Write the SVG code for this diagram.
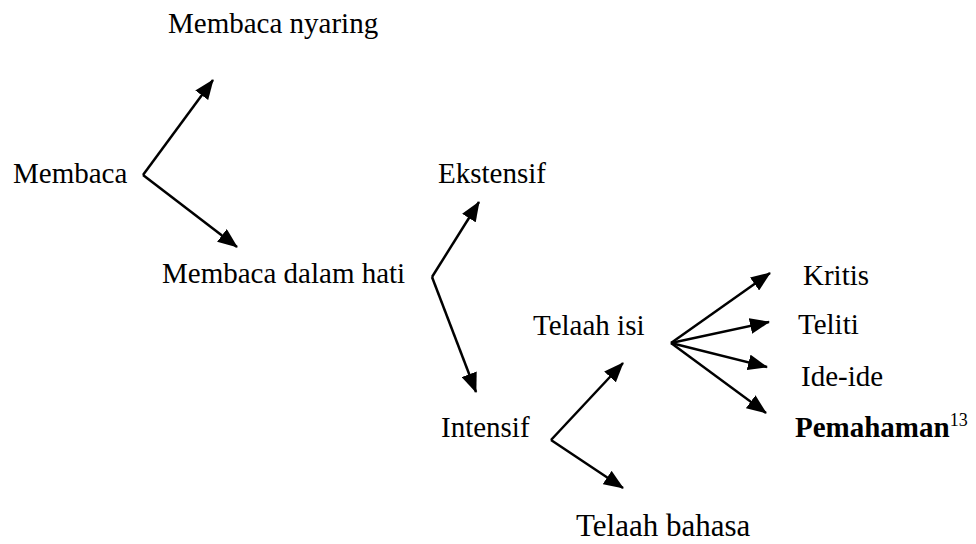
<svg xmlns="http://www.w3.org/2000/svg" width="976" height="544" viewBox="0 0 976 544">
<style>
  text { font-family: "Liberation Serif", "DejaVu Serif", serif; font-size: 29px; fill: #000; }
  .c { fill: none; stroke: #000; stroke-width: 2.5; stroke-linejoin: miter; marker-end: url(#ah); }
</style>
<defs>
  <marker id="ah" viewBox="0 0 20 16" refX="19" refY="8" markerWidth="20" markerHeight="16" markerUnits="userSpaceOnUse" orient="auto">
    <path d="M0,0 L20,8 L0,16 Z" fill="#000"/>
  </marker>
</defs>
<rect width="976" height="544" fill="#fff"/>
<g id="connectors">
  <path class="c" d="M143,175 L213,80"/>
  <path class="c" d="M143,175 L237,247"/>
  <path class="c" d="M432,277 L479,202"/>
  <path class="c" d="M432,277 L476,392"/>
  <path class="c" d="M551,440 L623,363"/>
  <path class="c" d="M551,440 L623,488"/>
  <path class="c" d="M671,343 L770,273"/>
  <path class="c" d="M671,343 L769,322"/>
  <path class="c" d="M671,343 L767,367"/>
  <path class="c" d="M671,343 L766,413"/>
</g>
<g id="n_membaca"><text font-family="Liberation Serif, serif" x="13" y="183">Membaca</text></g>
<g id="n_nyaring"><text font-family="Liberation Serif, serif" x="168" y="33">Membaca nyaring</text></g>
<g id="n_dalamhati"><text font-family="Liberation Serif, serif" x="162" y="283">Membaca dalam hati</text></g>
<g id="n_ekstensif"><text font-family="Liberation Serif, serif" x="438" y="183">Ekstensif</text></g>
<g id="n_intensif"><text font-family="Liberation Serif, serif" x="441" y="437">Intensif</text></g>
<g id="n_telaahisi"><text font-family="Liberation Serif, serif" x="533" y="335">Telaah isi</text></g>
<g id="n_telaahbahasa"><text font-family="Liberation Serif, serif" x="576" y="536" style="font-size:31px">Telaah bahasa</text></g>
<g id="n_kritis"><text font-family="Liberation Serif, serif" x="803" y="285">Kritis</text></g>
<g id="n_teliti"><text font-family="Liberation Serif, serif" x="798" y="334">Teliti</text></g>
<g id="n_ideide"><text font-family="Liberation Serif, serif" x="801" y="386">Ide-ide</text></g>
<g id="n_pemahaman"><text font-family="Liberation Serif, serif" x="795" y="437"><tspan font-weight="bold">Pemahaman</tspan><tspan font-size="18" dy="-11">13</tspan></text></g>
</svg>
